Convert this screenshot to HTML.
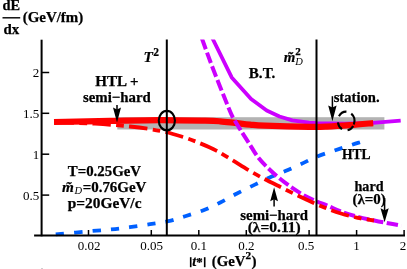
<!DOCTYPE html>
<html><head><meta charset="utf-8">
<style>
html,body{margin:0;padding:0;background:#fff;}
svg{display:block;will-change:transform;opacity:0.999;font-family:"Liberation Serif",serif;}
.b{font-weight:bold;stroke:#000;stroke-width:0.25px;}
.bi{font-weight:bold;font-style:italic;stroke:#000;stroke-width:0.2px;}
.i{font-style:italic;}
</style></head><body>
<svg width="407" height="269" viewBox="0 0 407 269">
<rect width="407" height="269" fill="#fff"/>
<defs><clipPath id="cp"><rect x="0" y="39.5" width="407" height="230"/></clipPath></defs>
<rect x="117.3" y="117.2" width="267.1" height="12.3" fill="#b3b3b3"/>
<path d="M360.00,142.30 C358.68,142.70 356.37,143.32 352.10,144.70 C347.83,146.08 340.20,148.65 334.40,150.60 C328.60,152.55 322.45,154.35 317.30,156.40 C312.15,158.45 308.40,160.63 303.50,162.90 C298.60,165.17 293.10,167.77 287.90,170.00 C282.70,172.23 277.72,173.90 272.30,176.30 C266.88,178.70 261.28,181.53 255.40,184.40 C249.52,187.27 242.85,190.48 237.00,193.50 C231.15,196.52 225.88,199.72 220.30,202.50 C214.72,205.28 209.35,207.92 203.50,210.20 C197.65,212.48 191.05,214.37 185.20,216.20 C179.35,218.03 174.27,219.87 168.40,221.20 C162.53,222.53 158.07,222.98 150.00,224.20 C141.93,225.42 130.17,227.32 120.00,228.50 C109.83,229.68 99.83,230.30 89.00,231.30 C78.17,232.30 60.67,233.97 55.00,234.50" fill="none" stroke="#0060ff" stroke-width="3.8" stroke-dasharray="8.3,10.1" />
<path d="M210.8,35.0 L213.0,39.5 L231.7,77.4 L251.1,99.0 L266.7,110.6 L279.5,116.5 L292.3,120.4 L309.0,122.7 L316.8,123.2 L345.0,123.6 L373.0,122.9 L400.7,120.6" fill="none" stroke="#cc00ff" stroke-width="3.8" stroke-linejoin="round" clip-path="url(#cp)"/>
<path d="M54.00,122.00 C63.33,121.82 92.33,121.22 110.00,120.90 C127.67,120.58 144.17,120.13 160.00,120.10 C175.83,120.07 195.00,120.50 205.00,120.70 C215.00,120.90 215.00,120.93 220.00,121.30 C225.00,121.67 230.00,122.35 235.00,122.90 C240.00,123.45 245.00,124.13 250.00,124.60 C255.00,125.07 255.17,125.33 265.00,125.70 C274.83,126.07 298.67,126.65 309.00,126.80 C319.33,126.95 320.17,126.87 327.00,126.60 C333.83,126.33 342.30,125.78 350.00,125.20 C357.70,124.62 369.33,123.45 373.20,123.10" fill="none" stroke="#ff0000" stroke-width="6.2" />
<path d="M200.65,35.00 C200.93,35.75 200.16,33.67 202.30,39.50 C204.44,45.33 208.97,58.25 213.50,70.00 C218.03,81.75 226.02,101.68 229.50,110.00 C232.98,118.32 232.53,116.52 234.40,119.90 C236.27,123.28 238.30,126.47 240.70,130.30 C243.10,134.13 245.92,138.40 248.80,142.90 C251.68,147.40 254.83,153.15 258.00,157.30 C261.17,161.45 264.30,164.37 267.80,167.80 C271.30,171.23 274.92,174.55 279.00,177.90 C283.08,181.25 287.85,184.83 292.30,187.90 C296.75,190.97 301.58,194.03 305.70,196.30 C309.82,198.57 313.28,199.92 317.00,201.50 C320.72,203.08 324.00,204.13 328.00,205.80 C332.00,207.47 336.05,209.67 341.00,211.50 C345.95,213.33 352.15,215.30 357.70,216.80 C363.25,218.30 369.53,219.48 374.30,220.50 C379.07,221.52 381.80,222.03 386.30,222.90 C390.80,223.77 398.80,225.23 401.30,225.70" fill="none" stroke="#cc00ff" stroke-width="4" stroke-dasharray="11.3,3.4" stroke-dashoffset="10.7" clip-path="url(#cp)"/>
<path d="M54.00,122.30 C60.83,122.53 82.33,123.00 95.00,123.70 C107.67,124.40 119.17,125.32 130.00,126.50 C140.83,127.68 151.17,129.05 160.00,130.80 C168.83,132.55 176.32,134.92 183.00,137.00 C189.68,139.08 194.55,141.03 200.10,143.30 C205.65,145.57 210.98,147.82 216.30,150.60 C221.62,153.38 226.55,156.68 232.00,160.00 C237.45,163.32 243.58,167.33 249.00,170.50 C254.42,173.67 259.33,176.28 264.50,179.00 C269.67,181.72 273.50,183.58 280.00,186.80 C286.50,190.02 296.12,194.85 303.50,198.30 C310.88,201.75 318.05,204.97 324.30,207.50 C330.55,210.03 335.43,211.78 341.00,213.50 C346.57,215.22 352.20,216.63 357.70,217.80 C363.20,218.97 371.28,220.05 374.00,220.50" fill="none" stroke="#ff0000" stroke-width="3.8" stroke-dasharray="18.5,5.3,7.7,5.3" stroke-dashoffset="35.3" />
<g stroke="#000" stroke-width="2" fill="none">
<line x1="41.6" y1="39.7" x2="41.6" y2="236.3"/>
<line x1="34.1" y1="235.4" x2="405" y2="235.4"/>
<line x1="166.8" y1="39.5" x2="166.8" y2="235.4"/>
<line x1="316.5" y1="39.5" x2="316.5" y2="235.4"/>
</g>
<g stroke="#000" stroke-width="1.5">
<line x1="41.6" y1="195.1" x2="49.2" y2="195.1"/>
<line x1="41.6" y1="154.2" x2="49.2" y2="154.2"/>
<line x1="41.6" y1="113.3" x2="49.2" y2="113.3"/>
<line x1="41.6" y1="72.5" x2="49.2" y2="72.5"/>
<line x1="88.5" y1="230" x2="88.5" y2="235.4"/>
<line x1="151.3" y1="230" x2="151.3" y2="235.4"/>
<line x1="198.8" y1="230" x2="198.8" y2="235.4"/>
<line x1="246.3" y1="230" x2="246.3" y2="235.4"/>
<line x1="309.1" y1="230" x2="309.1" y2="235.4"/>
<line x1="356.6" y1="230" x2="356.6" y2="235.4"/>
<line x1="404.1" y1="230" x2="404.1" y2="235.4"/>
</g>
<ellipse cx="166.85" cy="120.6" rx="8.1" ry="9.75" fill="none" stroke="#000" stroke-width="2.1"/>
<path d="M338.96,116.30 A8.30,9.40 0 0 1 346.44,111.61" fill="none" stroke="#000" stroke-width="2.1"/>
<path d="M351.26,113.59 A8.30,9.40 0 0 1 353.85,124.52" fill="none" stroke="#000" stroke-width="2.1"/>
<path d="M353.19,125.98 A8.30,9.40 0 0 1 347.59,130.26" fill="none" stroke="#000" stroke-width="2.1"/>
<path d="M342.00,129.14 A8.30,9.40 0 0 1 337.93,122.31" fill="none" stroke="#000" stroke-width="2.1"/>
<line x1="117.0" y1="105.0" x2="117.0" y2="110.6" stroke="#000" stroke-width="1.5"/>
<path d="M113.0,107.6 L117.0,109.6 L121.0,107.6 L117.0,122.5 Z" fill="#000"/>
<line x1="332.4" y1="96.2" x2="332.4" y2="108.5" stroke="#000" stroke-width="1.5"/>
<path d="M328.2,105.5 L332.4,107.5 L336.6,105.5 L332.4,121.3 Z" fill="#000"/>
<line x1="274.1" y1="206.5" x2="274.1" y2="198.2" stroke="#000" stroke-width="1.5"/>
<path d="M270.2,201.2 L274.1,199.2 L278.0,201.2 L274.1,187.2 Z" fill="#000"/>
<line x1="384.6" y1="198.0" x2="384.6" y2="211.3" stroke="#000" stroke-width="1.5"/>
<path d="M380.5,208.3 L384.6,210.3 L388.7,208.3 L384.6,222.3 Z" fill="#000"/>
<text x="89.0" y="250" font-size="13" text-anchor="middle">0.02</text>
<text x="151.6" y="250" font-size="13" text-anchor="middle">0.05</text>
<text x="198.8" y="250" font-size="13" text-anchor="middle">0.1</text>
<text x="246.3" y="250" font-size="13" text-anchor="middle">0.2</text>
<text x="306.0" y="250" font-size="13" text-anchor="middle">0.5</text>
<text x="356.6" y="250" font-size="13" text-anchor="middle">1</text>
<text x="403.0" y="250" font-size="13" text-anchor="middle">2</text>
<text x="39.3" y="77.0" font-size="13" text-anchor="end">2</text>
<text x="39.3" y="117.8" font-size="13" text-anchor="end">1.5</text>
<text x="39.3" y="158.7" font-size="13" text-anchor="end">1</text>
<text x="39.3" y="199.6" font-size="13" text-anchor="end">0.5</text>
<text x="2.40" y="9.9" font-size="14.37" class="b">dE</text>
<text x="3.60" y="33.6" font-size="14.88" class="b">dx</text>
<text x="22.70" y="21.5" font-size="14.94" class="b">(GeV/fm)</text>
<text x="95.20" y="85.8" font-size="15.06" class="b">HTL +</text>
<text x="83.00" y="101.8" font-size="14.84" class="b">semi−hard</text>
<text x="248.80" y="77.6" font-size="15.11" class="b">B.T.</text>
<text x="333.70" y="102.0" font-size="14.62" class="b">station.</text>
<text x="342.00" y="159.4" font-size="13.55" class="b">HTL</text>
<text x="354.50" y="191.3" font-size="14.11" class="b">hard</text>
<text x="352.40" y="204.0" font-size="15.01" class="b">(λ=0)</text>
<text x="240.30" y="219.8" font-size="14.84" class="b">semi−hard</text>
<text x="247.70" y="232.3" font-size="15.53" class="b">(λ=0.11)</text>
<text x="67.80" y="175.9" font-size="14.85" class="b">T=0.25GeV</text>
<text x="67.80" y="207.8" font-size="15.39" class="b">p=20GeV/c</text>
<text x="62.00" y="191.7" font-size="15.26" class="bi">m̃</text>
<text x="74.6" y="193.8" font-size="10.5" class="i">D</text>
<text x="82.70" y="191.9" font-size="14.94" class="b">=0.76GeV</text>
<rect x="189.9" y="257.2" width="1.6" height="10" fill="#000"/>
<rect x="203.9" y="257.2" width="1.6" height="10" fill="#000"/>
<text x="192.20" y="265.7" font-size="14.43" class="bi">t</text>
<text x="196.2" y="265.6" font-size="12.8" class="b">*</text>
<text x="211.80" y="265.7" font-size="14.77" class="b">(GeV</text>
<text x="245.6" y="258.9" font-size="11.3" class="b">2</text>
<text x="251.6" y="265.7" font-size="15.2" class="b">)</text>
<text x="143.6" y="61.9" font-size="15.3" class="bi">T<tspan font-size="11.5" dy="-6.1" dx="0.3" font-style="normal">2</tspan></text>
<text x="283.80" y="62.1" font-size="14.87" class="bi">m̃</text>
<text x="295.3" y="55" font-size="11" class="b">2</text>
<text x="295.3" y="65.2" font-size="10.5" class="i">D</text>
<rect x="2.5" y="17.1" width="17.7" height="1.4" fill="#000"/>
<rect x="41" y="268" width="2" height="1" fill="#d0d0d0"/>
</svg>
</body></html>
